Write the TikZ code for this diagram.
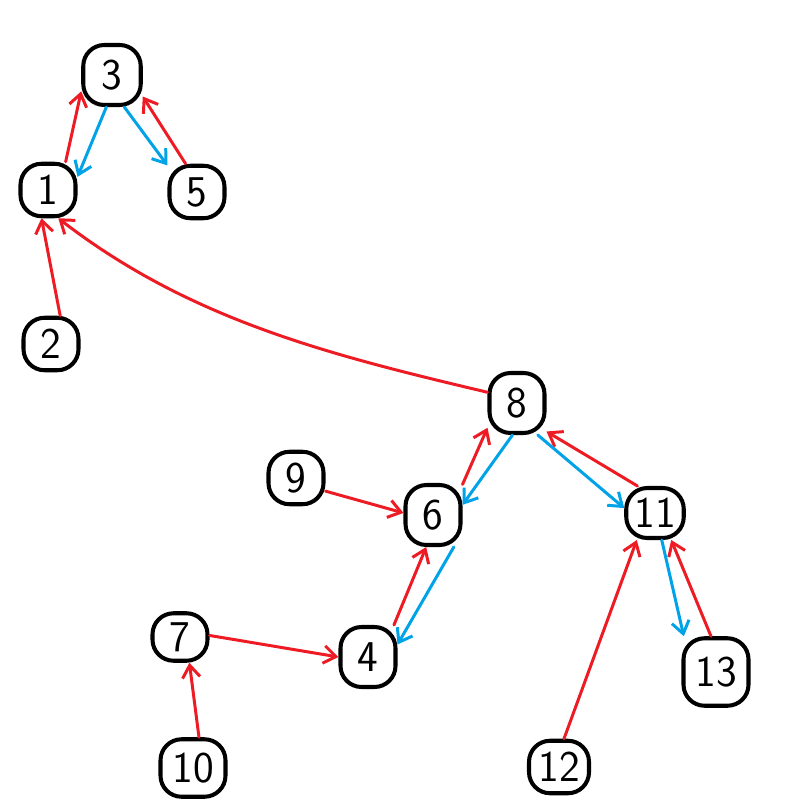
\documentclass[tikz,border=0pt]{standalone}
\usepackage{tikz}
\usetikzlibrary{arrows.meta,positioning,calc}
\definecolor{paintred}{RGB}{237,28,36}
\definecolor{paintblue}{RGB}{0,162,232}

\begin{document}
\begin{tikzpicture}[x=0.02cm, y=-0.02cm,
        numbox/.style={rectangle, rounded corners=12pt, draw=black, line width=2.3pt, inner sep=0pt, minimum width=1.1cm, minimum height=1.05cm, font=\fontsize{25}{25}\selectfont\sffamily},
        up/.style={-{Straight Barb[length=7pt,width=10pt]}, line width=1.7pt, paintred, line cap=round},
        down/.style={-{Straight Barb[length=7pt,width=10pt]}, line width=1.7pt, paintblue, line cap=round}]

        \useasboundingbox (0,0) rectangle (800,800);

        % Left tree
        \node[numbox, minimum width=1.15cm, minimum height=1.2cm] (N3) at (112,75) {3};
        \node[numbox] (N1) at (48,190) {1};
        \node[numbox] (N5) at (197,192) {5};
        \node[numbox] (N2) at (51,344) {2};

        % Right tree
        \node[numbox, minimum height=1.2cm] (N8) at (517,403) {8};
        \node[numbox] (N9) at (296,478) {9};
        \node[numbox, minimum height=1.2cm] (N6) at (433,515) {6};
        \node[numbox, minimum width=1.15cm, minimum height=1.0cm] (N11) at (655,513) {11};
        \node[numbox, minimum height=0.95cm] (N7) at (180,637) {7};
        \node[numbox, minimum height=1.2cm] (N4) at (368,657) {4};
        \node[numbox, minimum width=1.3cm, minimum height=1.35cm] (N13) at (716,672) {13};
        \node[numbox, minimum width=1.3cm, minimum height=1.15cm] (N10) at (193,768) {10};
        \node[numbox, minimum width=1.2cm] (N12) at (559,767) {12};

        % Parent links
        \draw[up] (N1.58) -- (N3.208);
        \draw[up] (N5.112) -- (N3.325);
        \draw[up] (N2.72) -- (N1.257);
        \draw[up] (N8.160) .. controls (330,355) and (190,320) .. (N1.290);
        \draw[up] (N9.-24) -- (N6.176);
        \draw[up] (N6.46) -- (N8.220);
        \draw[up] (N11.123) -- (N8.316);
        \draw[up] (N4.51) -- (N6.258);
        \draw[up] (N7.3) -- (N4.180);
        \draw[up] (N10.79) -- (N7.290);
        \draw[up] (N12.80) -- (N11.236);
        \draw[up] (N13.98) -- (N11.301);

        % Child links
        \draw[down] (N3.260) -- (N1.24);
        \draw[down] (N3.291) -- (N5.138);
        \draw[down] (N8.262) -- (N6.19);
        \draw[down] (N8.303) -- (N11.171);
        \draw[down] (N6.303) -- (N4.23);
        \draw[down] (N11.284) -- (N13.132);

    \end{tikzpicture}
\end{document}
